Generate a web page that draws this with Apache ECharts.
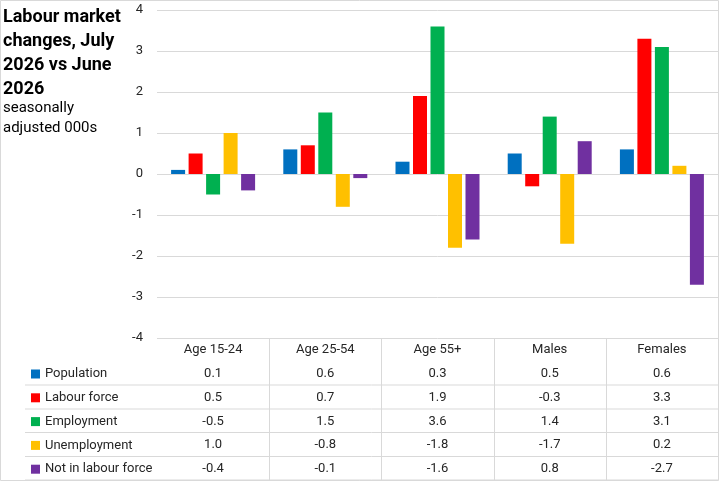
<!DOCTYPE html>
<html>
<head>
<meta charset="utf-8">
<script src="https://cdnjs.cloudflare.com/ajax/libs/echarts/6.0.0/echarts.min.js"></script>
<style>
  html, body { margin: 0; padding: 0; background: #fff; }
  #chart { width: 721px; height: 481px; }
</style>
</head>
<body>
<div id="chart"></div>
<script>
  // Labour market changes by group, seasonally adjusted 000s
  var categories = ['Age 15-24', 'Age 25-54', 'Age 55+', 'Males', 'Females'];
  var seriesNames = ['Population', 'Labour force', 'Employment', 'Unemployment', 'Not in labour force'];
  var population = [0.1, 0.6, 0.3, 0.5, 0.6];
  var labourForce = [0.5, 0.7, 1.9, -0.3, 3.3];
  var employment = [-0.5, 1.5, 3.6, 1.4, 3.1];
  var unemployment = [1.0, -0.8, -1.8, -1.7, 0.2];
  var notInLabourForce = [-0.4, -0.1, -1.6, 0.8, -2.7];
  var colors = ['#0070C0', '#FF0000', '#00B050', '#FFC000', '#7030A0'];

  var seriesData = [population, labourForce, employment, unemployment, notInLabourForce];
  var FONT = 'Roboto, "Liberation Sans", sans-serif';
  var GRID_COL = '#d9d9d9';
  var TEXT_COL = '#262626';

  var chart = echarts.init(document.getElementById('chart'), null, { renderer: 'canvas' });

  var option = {
    backgroundColor: '#fff',
    animation: false,
    textStyle: { fontFamily: FONT },
    title: {
      text: 'Labour market\nchanges, July\n2026 vs June\n2026',
      subtext: 'seasonally\nadjusted 000s',
      left: 3,
      top: 5,
      padding: 0,
      itemGap: -3,
      textStyle: { fontFamily: FONT, fontSize: 18, fontWeight: 'bold', color: '#000', lineHeight: 24 },
      subtextStyle: { fontFamily: FONT, fontSize: 15, color: '#000', lineHeight: 20 }
    },
    legend: {
      orient: 'vertical',
      left: 31,
      top: 367,
      padding: 0,
      itemWidth: 9,
      itemHeight: 9,
      itemGap: 9.8,
      icon: 'rect',
      selectedMode: false,
      textStyle: { fontFamily: FONT, fontSize: 13, color: TEXT_COL, lineHeight: 14 },
      data: seriesNames
    },
    grid: { left: 157, right: 3, top: 10, bottom: 143, containLabel: false },
    xAxis: {
      type: 'category',
      data: categories,
      axisLine: { show: false, onZero: false },
      axisTick: { show: false },
      splitLine: { show: false },
      axisLabel: {
        margin: 0,
        color: TEXT_COL,
        fontFamily: FONT,
        fontSize: 13,
        lineHeight: 23.8,
        formatter: function (value, idx) {
          var rows = [value];
          seriesData.forEach(function (arr) { rows.push(arr[idx].toFixed(1)); });
          return rows.join('\n');
        }
      }
    },
    yAxis: {
      type: 'value',
      min: -4,
      max: 4,
      interval: 1,
      axisLine: { show: false },
      axisTick: { show: false },
      axisLabel: { color: TEXT_COL, fontFamily: FONT, fontSize: 13, margin: 14 },
      splitLine: { lineStyle: { color: GRID_COL, width: 1 } }
    },
    series: seriesNames.map(function (name, i) {
      return {
        type: 'bar',
        name: name,
        data: seriesData[i],
        barWidth: 14,
        barGap: '25%',
        itemStyle: { color: colors[i] }
      };
    })
  };

  chart.setOption(option);

  // table grid lines under the plot, placed from the axis scale
  function tableLines() {
    var els = [];
    var yTop = chart.convertToPixel({ yAxisIndex: 0 }, -4);
    var rowYs = [385, 409, 432.5, 456.5, 480];
    var xRight = 718;
    rowYs.forEach(function (y) {
      els.push({ type: 'line', shape: { x1: 25, y1: y, x2: xRight, y2: y }, style: { stroke: GRID_COL, lineWidth: 1 } });
    });
    for (var i = 1; i < categories.length; i++) {
      var x = (chart.convertToPixel({ xAxisIndex: 0 }, i - 1) + chart.convertToPixel({ xAxisIndex: 0 }, i)) / 2;
      x = Math.round(x) + 0.5;
      els.push({ type: 'line', shape: { x1: x, y1: yTop, x2: x, y2: 480 }, style: { stroke: GRID_COL, lineWidth: 1 } });
    }
    els.push({ type: 'rect', shape: { x: 0.5, y: 0.5, width: xRight, height: 480 }, style: { fill: null, stroke: GRID_COL, lineWidth: 1 } });
    return els;
  }

  chart.setOption({ graphic: { elements: tableLines() } });
</script>
</body>
</html>
